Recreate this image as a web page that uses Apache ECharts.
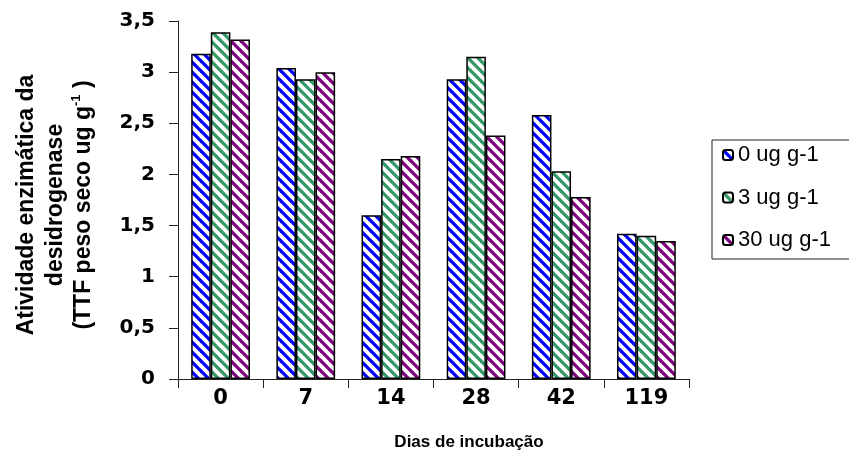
<!DOCTYPE html>
<html>
<head>
<meta charset="utf-8">
<script src="https://cdn.jsdelivr.net/npm/echarts@6/dist/echarts.min.js"></script>
<style>html,body{margin:0;padding:0;background:#fff}#c{width:849px;height:475px}</style>
</head>
<body>
<div id="c"></div>
<script>
const categories = ['0', '7', '14', '28', '42', '119'];
const seriesNames = ['0 ug g-1', '3 ug g-1', '30 ug g-1'];
const values0 = [3.18, 3.04, 1.60, 2.93, 2.58, 1.42];
const values3 = [3.39, 2.93, 2.15, 3.15, 2.03, 1.40];
const values30 = [3.32, 3.00, 2.18, 2.38, 1.78, 1.35];
const seriesColors = ['#0000ff', '#339966', '#800080'];
const yTicks = { min: 0, max: 3.5, interval: 0.5 };

function stripe(color) {
  const s = 10;
  const cv = document.createElement('canvas');
  cv.width = s; cv.height = s;
  const ctx = cv.getContext('2d');
  ctx.fillStyle = '#fff';
  ctx.fillRect(0, 0, s, s);
  ctx.strokeStyle = color;
  ctx.lineWidth = 3.3;
  for (const k of [-s, 0, s]) {
    ctx.beginPath();
    ctx.moveTo(k - 1, -1);
    ctx.lineTo(k + s + 1, s + 1);
    ctx.stroke();
  }
  return { image: cv, repeat: 'repeat' };
}

const FONT = 'Liberation Sans, Arial, sans-serif';
const TICKFONT = 'DejaVu Sans, sans-serif';
const data = [values0, values3, values30];
const chart = echarts.init(document.getElementById('c'));
chart.setOption({
  animation: false,
  backgroundColor: '#fff',
  grid: { left: 178, right: 160, top: 21, bottom: 96, containLabel: false },
  legend: {
    orient: 'vertical',
    left: 712, top: 140,
    padding: [4, 60, 8, 10],
    itemGap: 20.5,
    itemWidth: 10, itemHeight: 10,
    borderColor: '#222', borderWidth: 1,
    textStyle: { fontFamily: FONT, fontSize: 22, lineHeight: 22, color: '#000' },
    data: seriesNames
  },
  xAxis: {
    type: 'category',
    data: categories,
    name: 'Dias de incubação',
    nameLocation: 'middle',
    nameGap: 55,
    nameTextStyle: { fontFamily: FONT, fontSize: 17, fontWeight: 'bold', color: '#000', padding: [0, 0, 0, 71] },
    axisLine: { lineStyle: { color: '#222', width: 1 } },
    axisTick: { show: true, length: 9, lineStyle: { color: '#222' } },
    axisLabel: { fontFamily: TICKFONT, fontSize: 21, fontWeight: 'bold', color: '#000', margin: 9 }
  },
  yAxis: {
    type: 'value',
    min: yTicks.min, max: yTicks.max, interval: yTicks.interval,
    name: 'Atividade enzimática da\ndesidrogenase\n(TTF peso seco ug g{sup|-1} )',
    nameLocation: 'middle',
    nameRotate: 90,
    nameGap: 80,
    nameTextStyle: {
      fontFamily: FONT, fontSize: 23, fontWeight: 'bold', color: '#000', lineHeight: 28.5,
      padding: [0, 10, 0, 0],
      rich: { sup: { fontFamily: FONT, fontSize: 13, fontWeight: 'bold', color: '#000', verticalAlign: 'top', lineHeight: 28.5 } }
    },
    splitLine: { show: false },
    axisLine: { show: true, lineStyle: { color: '#222', width: 1 } },
    axisTick: { show: true, length: 9, lineStyle: { color: '#222' } },
    axisLabel: {
      fontFamily: TICKFONT, fontSize: 20, fontWeight: 'bold', color: '#000', margin: 23,
      formatter: v => String(v).replace('.', ',')
    }
  },
  series: seriesNames.map((n, i) => ({
    name: n,
    type: 'bar',
    data: data[i],
    barGap: '0%',
    barCategoryGap: '31%',
    itemStyle: { color: stripe(seriesColors[i]), borderColor: '#000', borderWidth: 1.5 }
  }))
});
</script>
</body>
</html>
